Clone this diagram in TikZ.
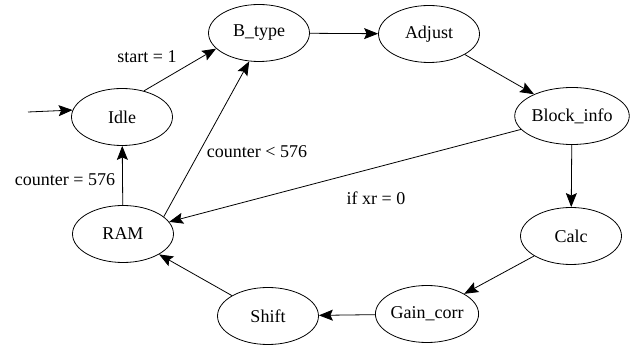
\documentclass[tikz,border=0pt]{standalone}
\usepackage{fontspec}
\setmainfont{Liberation Serif}
\usetikzlibrary{shapes.geometric,arrows.meta}

\tikzset{
	state/.style={ellipse,draw,line width=0.8pt,minimum width=101pt,minimum height=57pt,inner sep=0pt},
	trans/.style={line width=0.8pt,-{Stealth[length=14pt,width=11pt,inset=2.5pt]}},
	cond/.style={inner sep=0pt}
}

\begin{document}
\begin{tikzpicture}[x=1pt,y=-1pt,font=\rmfamily\fontsize{18}{20}\selectfont]
\useasboundingbox (0,0) rectangle (637,352);

%States
\node[state] (idle) at (122,117) {Idle};
\node[state] (btype) at (259,33) {B\_type};
\node[state] (adjust) at (429,34) {Adjust};
\node[state] (blockinfo) at (572,116) {Block\_info};
\node[state] (calc) at (571,236) {Calc};
\node[state] (gaincorr) at (427,314) {Gain\_corr};
\node[state] (shift) at (268,316) {Shift};
\node[state] (ram) at (123,234) {RAM};

%Entry
\coordinate (entry) at (28,112);
\draw[trans] (entry) -- (idle.172);

%Transitions
\draw[trans] (idle.50) -- (btype.200);
\draw[trans] (btype) -- (adjust);
\draw[trans] (adjust) -- (blockinfo);
\draw[trans] (blockinfo) -- (calc);
\draw[trans] (blockinfo) -- (ram);
\draw[trans] (calc) -- (gaincorr);
\draw[trans] (gaincorr) -- (shift);
\draw[trans] (shift) -- (ram);
\draw[trans] (ram) -- (idle);
\draw[trans] (ram.23) -- (btype.251);

%Conditions
\node[cond] (lstart) at (147,57) {start = 1};
\node[cond] (lless) at (257,152) {counter < 576};
\node[cond] (lequal) at (65,180) {counter = 576};
\node[cond] (lxr) at (376,198) {if xr = 0};

\end{tikzpicture}
\end{document}
